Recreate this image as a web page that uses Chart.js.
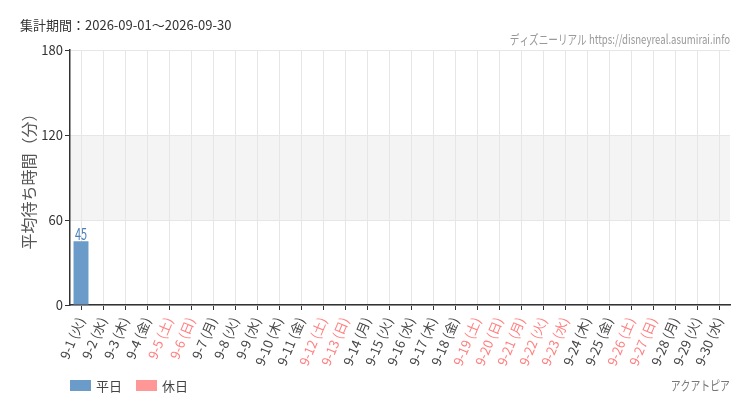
<!DOCTYPE html>
<html>
<head>
<meta charset="utf-8">
<script src="https://cdn.jsdelivr.net/npm/chart.js@4/dist/chart.umd.min.js"></script>
<style>
  body { margin: 0; background: #fff; }
  #wrap { position: relative; width: 750px; height: 410px; }
</style>
</head>
<body>
<div id="wrap"><canvas id="waitChart" width="750" height="410"></canvas></div>
<script>
'use strict';

// 日付ラベル
const categories = ['9-1 (火)','9-2 (水)','9-3 (木)','9-4 (金)','9-5 (土)','9-6 (日)','9-7 (月)','9-8 (火)','9-9 (水)','9-10 (木)',
  '9-11 (金)','9-12 (土)','9-13 (日)','9-14 (月)','9-15 (火)','9-16 (水)','9-17 (木)','9-18 (金)','9-19 (土)','9-20 (日)',
  '9-21 (月)','9-22 (火)','9-23 (水)','9-24 (木)','9-25 (金)','9-26 (土)','9-27 (日)','9-28 (月)','9-29 (火)','9-30 (水)'];
// 休日フラグ (1 = 休日)
const holidayFlags = [0,0,0,0,1,1,0,0,0,0, 0,1,1,0,0,0,0,0,1,1, 1,1,1,0,0,1,1,0,0,0];
// 平均待ち時間 (分)
const weekdayValues = [45,null,null,null,null,null,null,null,null,null, null,null,null,null,null,null,null,null,null,null, null,null,null,null,null,null,null,null,null,null];
const holidayValues = [null,null,null,null,null,null,null,null,null,null, null,null,null,null,null,null,null,null,null,null, null,null,null,null,null,null,null,null,null,null];
const yTicks = [0, 60, 120, 180];

const BLUE = '#6b9bc8';
const PINK = '#ff9797';
const JP = "'Noto Sans CJK JP', 'Noto Sans', sans-serif";

// 横に詰めた文字を描く
function narrowText(c, text, x, y, sx, align) {
  c.save();
  c.translate(x, y);
  c.scale(sx, 1);
  c.textAlign = align;
  c.fillText(text, 0, 0);
  c.restore();
}

// ***** 背景帯・ラベル・凡例 *****
const decor = {
  id: 'decor',
  beforeDraw(chart) {
    const c = chart.ctx, a = chart.chartArea, y = chart.scales.y;
    c.save();
    c.fillStyle = '#f4f4f4';
    const top = y.getPixelForValue(120), bot = y.getPixelForValue(60);
    c.fillRect(a.left, top, a.right - a.left, bot - top);
    c.restore();
  },
  afterDatasetsDraw(chart) {
    const c = chart.ctx;
    c.save();
    c.font = '16px ' + JP;
    c.fillStyle = '#4a7fb8';
    c.textBaseline = 'bottom';
    chart.data.datasets.forEach((ds, i) => {
      chart.getDatasetMeta(i).data.forEach((bar, j) => {
        if (ds.data[j] != null) narrowText(c, String(ds.data[j]), bar.x, bar.y + 1, 0.68, 'center');
      });
    });
    c.restore();
  },
  afterDraw(chart) {
    const c = chart.ctx;
    c.save();
    c.textBaseline = 'middle';
    c.fillStyle = '#333';
    c.font = '13px ' + JP;
    c.fillText('集計期間：2026-09-01～2026-09-30', 20, 25);

    c.fillStyle = '#999';
    c.font = '13px ' + JP;
    narrowText(c, 'ディズニーリアル https://disneyreal.asumirai.info', 730, 39, 0.74, 'right');
    c.fillStyle = '#777';
    c.font = '13px ' + JP;
    narrowText(c, 'アクアトピア', 730, 385, 0.76, 'right');

    // 凡例
    let x = 70;
    chart.data.datasets.forEach(ds => {
      c.fillStyle = ds.backgroundColor;
      c.fillRect(x, 380, 21, 11);
      c.fillStyle = '#444';
      c.font = '13px ' + JP;
      c.textAlign = 'left';
      c.fillText(ds.label, x + 26, 386);
      x += 66;
    });
    c.restore();
  }
};

new Chart(document.getElementById('waitChart'), {
  type: 'bar',
  data: {
    labels: categories,
    datasets: [
      { label: '平日', data: weekdayValues, backgroundColor: BLUE },
      { label: '休日', data: holidayValues, backgroundColor: PINK }
    ]
  },
  options: {
    responsive: false,
    animation: false,
    devicePixelRatio: 1,
    categoryPercentage: 0.8,
    barPercentage: 0.85,
    layout: { padding: { top: 50, right: 20, left: 0, bottom: 0 } },
    plugins: { legend: { display: false }, tooltip: { enabled: false } },
    scales: {
      x: {
        stacked: true,
        afterFit(s) { s.height = 105; },
        grid: { offset: false, color: '#e6e6e6', tickColor: '#333', tickLength: 5 },
        border: { color: '#333', width: 1.5 },
        ticks: {
          minRotation: 67, maxRotation: 67, autoSkip: false, padding: 5,
          font: { family: JP, size: 13 },
          color: (ctx) => holidayFlags[ctx.index] ? '#ff7f7f' : '#444'
        }
      },
      y: {
        stacked: true,
        min: 0, max: 180,
        afterFit(s) { s.width = 70; },
        afterBuildTicks(s) { s.ticks = yTicks.map(v => ({ value: v })); },
        grid: { color: '#e6e6e6', tickColor: '#333', tickLength: 5 },
        border: { color: '#333', width: 1.5 },
        ticks: { padding: 2, font: { family: JP, size: 13 }, color: '#333' },
        title: {
          display: true, text: '平均待ち時間（分）', color: '#555',
          font: { family: JP, size: 16 }, padding: { top: 19, bottom: 0 }
        }
      }
    }
  },
  plugins: [decor]
});
</script>
</body>
</html>
